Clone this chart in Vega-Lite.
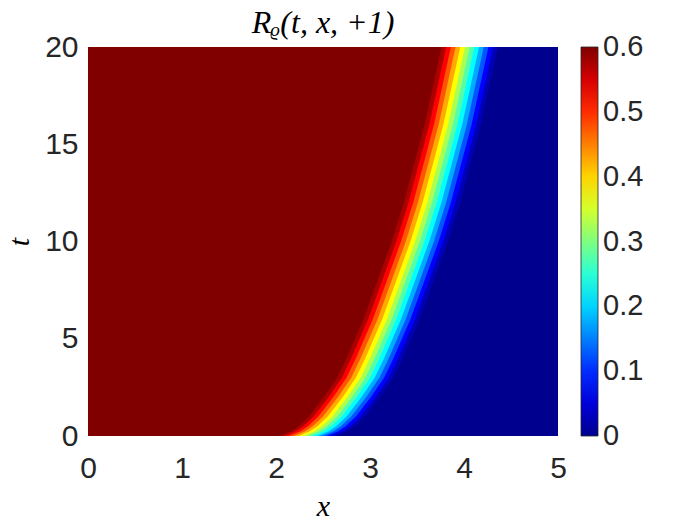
{
"$schema": "https://vega.github.io/schema/vega-lite/v6.json",
"width": 470, "height": 389,
"autosize": {"type": "none"},
"padding": {"left": 88, "top": 47, "right": 142, "bottom": 89},
"background": "white",
"config": {"view": {"stroke": null}},
"title": {"text": "Rᵨ(t, x, +1)", "font": "Liberation Serif", "fontStyle": "italic", "fontWeight": "normal", "fontSize": 32, "color": "#000000", "offset": -8, "anchor": "middle"},
"data": {"values": [
{"v":0,"t":0,"x":5},{"v":0,"t":0.25,"x":5},{"v":0,"t":0.5,"x":5},{"v":0,"t":1,"x":5},{"v":0,"t":2,"x":5},{"v":0,"t":3,"x":5},{"v":0,"t":4,"x":5},{"v":0,"t":6,"x":5},{"v":0,"t":8,"x":5},{"v":0,"t":10,"x":5},{"v":0,"t":12,"x":5},{"v":0,"t":14,"x":5},{"v":0,"t":16,"x":5},{"v":0,"t":18,"x":5},{"v":0,"t":20,"x":5},
{"v":0.025,"t":0,"x":2.64},{"v":0.025,"t":0.25,"x":2.76},{"v":0.025,"t":0.5,"x":2.84},{"v":0.025,"t":1,"x":2.95},{"v":0.025,"t":2,"x":3.11},{"v":0.025,"t":3,"x":3.25},{"v":0.025,"t":4,"x":3.35},{"v":0.025,"t":6,"x":3.53},{"v":0.025,"t":8,"x":3.68},{"v":0.025,"t":10,"x":3.83},{"v":0.025,"t":12,"x":3.96},{"v":0.025,"t":14,"x":4.07},{"v":0.025,"t":16,"x":4.18},{"v":0.025,"t":18,"x":4.27},{"v":0.025,"t":20,"x":4.36},
{"v":0.075,"t":0,"x":2.59},{"v":0.075,"t":0.25,"x":2.71},{"v":0.075,"t":0.5,"x":2.79},{"v":0.075,"t":1,"x":2.9},{"v":0.075,"t":2,"x":3.06},{"v":0.075,"t":3,"x":3.2},{"v":0.075,"t":4,"x":3.3},{"v":0.075,"t":6,"x":3.48},{"v":0.075,"t":8,"x":3.63},{"v":0.075,"t":10,"x":3.78},{"v":0.075,"t":12,"x":3.91},{"v":0.075,"t":14,"x":4.02},{"v":0.075,"t":16,"x":4.13},{"v":0.075,"t":18,"x":4.22},{"v":0.075,"t":20,"x":4.31},
{"v":0.125,"t":0,"x":2.54},{"v":0.125,"t":0.25,"x":2.66},{"v":0.125,"t":0.5,"x":2.74},{"v":0.125,"t":1,"x":2.85},{"v":0.125,"t":2,"x":3.01},{"v":0.125,"t":3,"x":3.15},{"v":0.125,"t":4,"x":3.25},{"v":0.125,"t":6,"x":3.43},{"v":0.125,"t":8,"x":3.58},{"v":0.125,"t":10,"x":3.73},{"v":0.125,"t":12,"x":3.86},{"v":0.125,"t":14,"x":3.97},{"v":0.125,"t":16,"x":4.08},{"v":0.125,"t":18,"x":4.17},{"v":0.125,"t":20,"x":4.26},
{"v":0.175,"t":0,"x":2.49},{"v":0.175,"t":0.25,"x":2.61},{"v":0.175,"t":0.5,"x":2.69},{"v":0.175,"t":1,"x":2.8},{"v":0.175,"t":2,"x":2.96},{"v":0.175,"t":3,"x":3.1},{"v":0.175,"t":4,"x":3.2},{"v":0.175,"t":6,"x":3.38},{"v":0.175,"t":8,"x":3.53},{"v":0.175,"t":10,"x":3.68},{"v":0.175,"t":12,"x":3.81},{"v":0.175,"t":14,"x":3.92},{"v":0.175,"t":16,"x":4.03},{"v":0.175,"t":18,"x":4.12},{"v":0.175,"t":20,"x":4.21},
{"v":0.225,"t":0,"x":2.44},{"v":0.225,"t":0.25,"x":2.56},{"v":0.225,"t":0.5,"x":2.64},{"v":0.225,"t":1,"x":2.75},{"v":0.225,"t":2,"x":2.91},{"v":0.225,"t":3,"x":3.05},{"v":0.225,"t":4,"x":3.15},{"v":0.225,"t":6,"x":3.33},{"v":0.225,"t":8,"x":3.48},{"v":0.225,"t":10,"x":3.63},{"v":0.225,"t":12,"x":3.76},{"v":0.225,"t":14,"x":3.87},{"v":0.225,"t":16,"x":3.98},{"v":0.225,"t":18,"x":4.07},{"v":0.225,"t":20,"x":4.16},
{"v":0.275,"t":0,"x":2.39},{"v":0.275,"t":0.25,"x":2.51},{"v":0.275,"t":0.5,"x":2.59},{"v":0.275,"t":1,"x":2.7},{"v":0.275,"t":2,"x":2.86},{"v":0.275,"t":3,"x":3.0},{"v":0.275,"t":4,"x":3.1},{"v":0.275,"t":6,"x":3.28},{"v":0.275,"t":8,"x":3.43},{"v":0.275,"t":10,"x":3.58},{"v":0.275,"t":12,"x":3.71},{"v":0.275,"t":14,"x":3.82},{"v":0.275,"t":16,"x":3.93},{"v":0.275,"t":18,"x":4.02},{"v":0.275,"t":20,"x":4.11},
{"v":0.325,"t":0,"x":2.34},{"v":0.325,"t":0.25,"x":2.46},{"v":0.325,"t":0.5,"x":2.54},{"v":0.325,"t":1,"x":2.65},{"v":0.325,"t":2,"x":2.81},{"v":0.325,"t":3,"x":2.95},{"v":0.325,"t":4,"x":3.05},{"v":0.325,"t":6,"x":3.23},{"v":0.325,"t":8,"x":3.38},{"v":0.325,"t":10,"x":3.53},{"v":0.325,"t":12,"x":3.66},{"v":0.325,"t":14,"x":3.77},{"v":0.325,"t":16,"x":3.88},{"v":0.325,"t":18,"x":3.97},{"v":0.325,"t":20,"x":4.06},
{"v":0.375,"t":0,"x":2.29},{"v":0.375,"t":0.25,"x":2.41},{"v":0.375,"t":0.5,"x":2.49},{"v":0.375,"t":1,"x":2.6},{"v":0.375,"t":2,"x":2.76},{"v":0.375,"t":3,"x":2.9},{"v":0.375,"t":4,"x":3.0},{"v":0.375,"t":6,"x":3.18},{"v":0.375,"t":8,"x":3.33},{"v":0.375,"t":10,"x":3.48},{"v":0.375,"t":12,"x":3.61},{"v":0.375,"t":14,"x":3.72},{"v":0.375,"t":16,"x":3.83},{"v":0.375,"t":18,"x":3.92},{"v":0.375,"t":20,"x":4.01},
{"v":0.425,"t":0,"x":2.24},{"v":0.425,"t":0.25,"x":2.36},{"v":0.425,"t":0.5,"x":2.44},{"v":0.425,"t":1,"x":2.55},{"v":0.425,"t":2,"x":2.71},{"v":0.425,"t":3,"x":2.85},{"v":0.425,"t":4,"x":2.95},{"v":0.425,"t":6,"x":3.13},{"v":0.425,"t":8,"x":3.28},{"v":0.425,"t":10,"x":3.43},{"v":0.425,"t":12,"x":3.56},{"v":0.425,"t":14,"x":3.67},{"v":0.425,"t":16,"x":3.78},{"v":0.425,"t":18,"x":3.87},{"v":0.425,"t":20,"x":3.96},
{"v":0.475,"t":0,"x":2.19},{"v":0.475,"t":0.25,"x":2.31},{"v":0.475,"t":0.5,"x":2.39},{"v":0.475,"t":1,"x":2.5},{"v":0.475,"t":2,"x":2.66},{"v":0.475,"t":3,"x":2.8},{"v":0.475,"t":4,"x":2.9},{"v":0.475,"t":6,"x":3.08},{"v":0.475,"t":8,"x":3.23},{"v":0.475,"t":10,"x":3.38},{"v":0.475,"t":12,"x":3.51},{"v":0.475,"t":14,"x":3.62},{"v":0.475,"t":16,"x":3.73},{"v":0.475,"t":18,"x":3.82},{"v":0.475,"t":20,"x":3.91},
{"v":0.525,"t":0,"x":2.14},{"v":0.525,"t":0.25,"x":2.26},{"v":0.525,"t":0.5,"x":2.34},{"v":0.525,"t":1,"x":2.45},{"v":0.525,"t":2,"x":2.61},{"v":0.525,"t":3,"x":2.75},{"v":0.525,"t":4,"x":2.85},{"v":0.525,"t":6,"x":3.03},{"v":0.525,"t":8,"x":3.18},{"v":0.525,"t":10,"x":3.33},{"v":0.525,"t":12,"x":3.46},{"v":0.525,"t":14,"x":3.57},{"v":0.525,"t":16,"x":3.68},{"v":0.525,"t":18,"x":3.77},{"v":0.525,"t":20,"x":3.86},
{"v":0.575,"t":0,"x":2.09},{"v":0.575,"t":0.25,"x":2.21},{"v":0.575,"t":0.5,"x":2.29},{"v":0.575,"t":1,"x":2.4},{"v":0.575,"t":2,"x":2.56},{"v":0.575,"t":3,"x":2.7},{"v":0.575,"t":4,"x":2.8},{"v":0.575,"t":6,"x":2.98},{"v":0.575,"t":8,"x":3.13},{"v":0.575,"t":10,"x":3.28},{"v":0.575,"t":12,"x":3.41},{"v":0.575,"t":14,"x":3.52},{"v":0.575,"t":16,"x":3.63},{"v":0.575,"t":18,"x":3.72},{"v":0.575,"t":20,"x":3.81},
{"v":0.6,"t":0,"x":2.04},{"v":0.6,"t":0.25,"x":2.16},{"v":0.6,"t":0.5,"x":2.24},{"v":0.6,"t":1,"x":2.35},{"v":0.6,"t":2,"x":2.51},{"v":0.6,"t":3,"x":2.65},{"v":0.6,"t":4,"x":2.75},{"v":0.6,"t":6,"x":2.93},{"v":0.6,"t":8,"x":3.08},{"v":0.6,"t":10,"x":3.23},{"v":0.6,"t":12,"x":3.36},{"v":0.6,"t":14,"x":3.47},{"v":0.6,"t":16,"x":3.58},{"v":0.6,"t":18,"x":3.67},{"v":0.6,"t":20,"x":3.76}
]},
"mark": {"type": "area", "orient": "horizontal", "clip": true, "interpolate": "linear"},
"encoding": {
  "y": {"field": "t", "type": "quantitative", "title": "t",
        "scale": {"domain": [0, 20], "nice": false, "zero": false},
        "axis": {"values": [0, 5, 10, 15, 20], "domain": false, "ticks": false, "tickSize": 0, "grid": false, "labelFlush": false,
                 "labelFont": "Liberation Sans", "labelFontSize": 30, "labelColor": "#262626", "labelPadding": 10,
                 "titleFont": "Liberation Serif", "titleFontStyle": "italic", "titleFontWeight": "normal", "titleFontSize": 30, "titleColor": "#000000", "titlePadding": 10}},
  "x": {"field": "x", "type": "quantitative", "title": "x", "stack": null,
        "scale": {"domain": [0, 5], "nice": false, "zero": false},
        "axis": {"values": [0, 1, 2, 3, 4, 5], "domain": false, "ticks": false, "tickSize": 0, "grid": false, "labelFlush": false,
                 "labelFont": "Liberation Sans", "labelFontSize": 30, "labelColor": "#262626", "labelPadding": 17,
                 "titleFont": "Liberation Serif", "titleFontStyle": "italic", "titleFontWeight": "normal", "titleFontSize": 30, "titleColor": "#000000", "titlePadding": 8}},
  "x2": {"datum": 0},
  "color": {"field": "v", "type": "quantitative",
            "scale": {"domain": [0, 0.075, 0.225, 0.375, 0.525, 0.6], "range": ["#00008f", "#0000ff", "#00ffff", "#ffff00", "#ff0000", "#800000"], "interpolate": "rgb"},
            "legend": {"type": "gradient", "direction": "vertical", "orient": "right", "offset": 23, "padding": 0, "title": null,
                       "values": [0, 0.1, 0.2, 0.3, 0.4, 0.5, 0.6], "format": "~g",
                       "gradientLength": 389, "gradientThickness": 17, "gradientStrokeColor": "#262626", "gradientStrokeWidth": 0.8,
                       "labelFont": "Liberation Sans", "labelFontSize": 29, "labelColor": "#262626", "labelOffset": 5, "labelOverlap": false,
                       "encode": {"labels": {"enter": {"baseline": {"value": "middle"}}, "update": {"baseline": {"value": "middle"}}}}}},
  "detail": {"field": "v", "type": "quantitative"}
}
}
